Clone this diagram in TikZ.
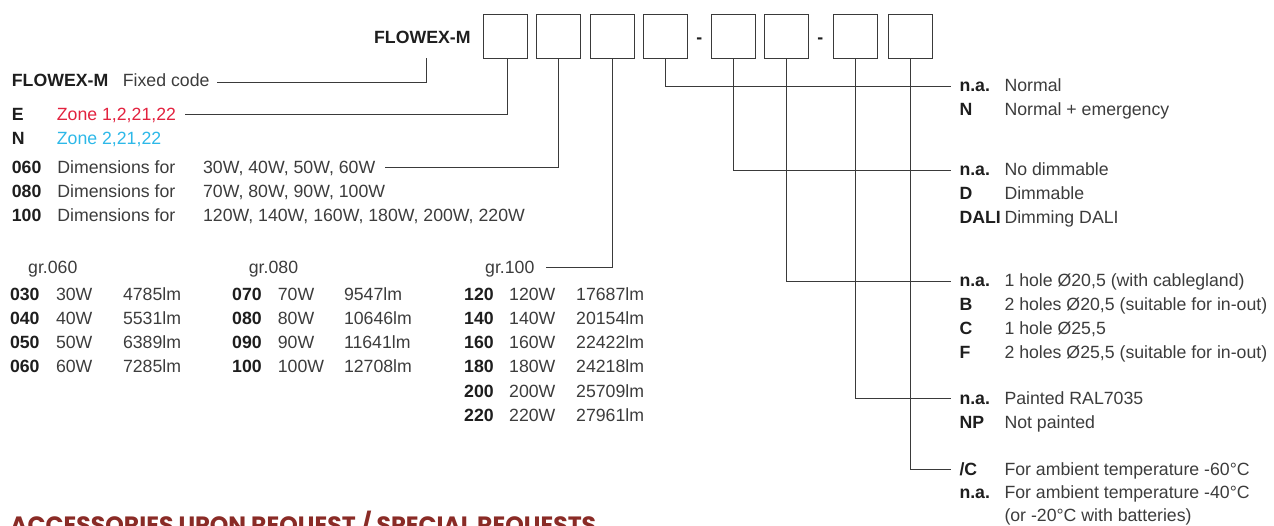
\documentclass[tikz,border=0pt]{standalone}
\usepackage{fontspec}
\setmainfont{Liberation Sans}
\newfontfamily\headfont{Poppins}
\definecolor{txt}{HTML}{3C3C3C}
\definecolor{bld}{HTML}{1E1E1E}
\definecolor{zred}{HTML}{E2223F}
\definecolor{zcyan}{HTML}{2DB8E8}
\definecolor{headc}{HTML}{8A2B26}
\definecolor{lnc}{HTML}{3A3A3A}
\tikzset{
  tx/.style={anchor=base west, inner sep=0pt, font=\fontsize{17.7}{24}\selectfont, text=txt},
  tb/.style={anchor=base west, inner sep=0pt, font=\fontsize{17.7}{24}\selectfont\bfseries, text=bld},
  codebox/.style={draw=lnc, line width=0.9pt, minimum width=44pt, minimum height=44pt, inner sep=0pt},
  conn/.style={draw=lnc, line width=0.9pt},
}
\begin{document}
\begin{tikzpicture}[x=1pt,y=-1pt]
\useasboundingbox (0,0) rectangle (1274,526);
% code boxes
\node[tb, anchor=base east] (top) at (470.7,44) {FLOWEX-M};
\foreach \i/\x in {1/505.2,2/558.7,3/612.3,4/665.5,5/733.2,6/786.3,7/855,8/910}
  \node[codebox] (b\i) at (\x,36) {};
\node[tb, anchor=base] (d1) at (699.3,44) {-};
\node[tb, anchor=base] (d2) at (820.3,44) {-};

% left column
\node[tb] (lf) at (11.7,87) {FLOWEX-M};
\node[tx] (fixed) at (122.7,87) {Fixed code};
\node[tb] (le) at (11.7,120.3) {E};
\node[tx, text=zred] (ze) at (56.7,120.3) {Zone 1,2,21,22};
\node[tb] (ln) at (11.7,144.3) {N};
\node[tx, text=zcyan] (zn) at (56.7,144.3) {Zone 2,21,22};
\node[tb] (l060) at (11.7,173.7) {060};
\node[tx] (dim1) at (57.1,173.7) {Dimensions for};
\node[tx] (w1) at (202.9,173.7) {30W, 40W, 50W, 60W};
\node[tb] (l080) at (11.7,197.5) {080};
\node[tx] (dim2) at (57.1,197.5) {Dimensions for};
\node[tx] (w2) at (202.9,197.5) {70W, 80W, 90W, 100W};
\node[tb] (l100) at (11.7,221.5) {100};
\node[tx] (dim3) at (57.1,221.5) {Dimensions for};
\node[tx] (w3) at (202.9,221.5) {120W, 140W, 160W, 180W, 200W, 220W};

% group tables
\node[tx] (g060) at (28,273.5) {gr.060};
\node[tx] (g080) at (248.7,273.5) {gr.080};
\node[tx] (g100) at (485,273.5) {gr.100};
\foreach \c/\w/\l [count=\k] in {030/30W/4785lm,040/40W/5531lm,050/50W/6389lm,060/60W/7285lm}{
  \pgfmathsetmacro{\yy}{301+24*(\k-1)}
  \node[tb] (a\k) at (9.8,\yy) {\c};
  \node[tx] (aw\k) at (55.8,\yy) {\w};
  \node[tx] (al\k) at (122.8,\yy) {\l};
}
\foreach \c/\w/\l [count=\k] in {070/70W/9547lm,080/80W/10646lm,090/90W/11641lm,100/100W/12708lm}{
  \pgfmathsetmacro{\yy}{301+24*(\k-1)}
  \node[tb] (m\k) at (232,\yy) {\c};
  \node[tx] (mw\k) at (277.7,\yy) {\w};
  \node[tx] (ml\k) at (343.8,\yy) {\l};
}
\foreach \c/\w/\l [count=\k] in {120/120W/17687lm,140/140W/20154lm,160/160W/22422lm,180/180W/24218lm,200/200W/25709lm,220/220W/27961lm}{
  \pgfmathsetmacro{\yy}{301+24*(\k-1)}
  \node[tb] (r\k) at (464,\yy) {\c};
  \node[tx] (rw\k) at (509,\yy) {\w};
  \node[tx] (rl\k) at (576,\yy) {\l};
}

% right column
\def\lx{959.3}\def\dx{1004.3}
\node[tb] (n1a) at (\lx,92) {n.a.};
\node[tx] (n1b) at (\dx,92) {Normal};
\node[tb] (n2a) at (\lx,116) {N};
\node[tx] (n2b) at (\dx,116) {Normal + emergency};
\node[tb] (d1a) at (\lx,176) {n.a.};
\node[tx] (d1b) at (\dx,176) {No dimmable};
\node[tb] (d2a) at (\lx,200) {D};
\node[tx] (d2b) at (\dx,200) {Dimmable};
\node[tb] (d3a) at (\lx,224) {DALI};
\node[tx] (d3b) at (\dx,224) {Dimming DALI};
\node[tb] (h1a) at (\lx,287) {n.a.};
\node[tx] (h1b) at (\dx,287) {1 hole Ø20,5 (with cablegland)};
\node[tb] (h2a) at (\lx,311) {B};
\node[tx] (h2b) at (\dx,311) {2 holes Ø20,5 (suitable for in-out)};
\node[tb] (h3a) at (\lx,335) {C};
\node[tx] (h3b) at (\dx,335) {1 hole Ø25,5};
\node[tb] (h4a) at (\lx,359) {F};
\node[tx] (h4b) at (\dx,359) {2 holes Ø25,5 (suitable for in-out)};
\node[tb] (p1a) at (\lx,404) {n.a.};
\node[tx] (p1b) at (\dx,404) {Painted RAL7035};
\node[tb] (p2a) at (\lx,428) {NP};
\node[tx] (p2b) at (\dx,428) {Not painted};
\node[tb] (t1a) at (\lx,475) {/C};
\node[tx] (t1b) at (\dx,475) {For ambient temperature -60°C};
\node[tb] (t2a) at (\lx,498.5) {n.a.};
\node[tx] (t2b) at (\dx,498.5) {For ambient temperature -40°C};
\node[tx] (t3b) at (\dx,521) {(or -20°C with batteries)};

% heading (cut by page edge, as in the reference)
\node[anchor=base west, inner sep=0pt, text=headc, font=\headfont\bfseries\fontsize{23.6}{28}\selectfont] (head) at (10,533) {ACCESSORIES UPON REQUEST / SPECIAL REQUESTS};

% connectors
\coordinate (f0) at (217,82.5);
\coordinate (f1) at (185,114.3);
\coordinate (f2) at (385,167.5);
\coordinate (f3) at (546,267.5);
\coordinate (f4) at (951,86);
\coordinate (f5) at (951,170);
\coordinate (f6) at (951,281);
\coordinate (f7) at (951,398);
\coordinate (f8) at (951,469);
\draw[conn] ([shift={(4,14)}]top.south) |- (f0);
\draw[conn] ([xshift=2.5pt]b1.south) |- (f1);
\foreach \i in {2,...,8} \draw[conn] (b\i.south) |- (f\i);
\end{tikzpicture}
\end{document}
